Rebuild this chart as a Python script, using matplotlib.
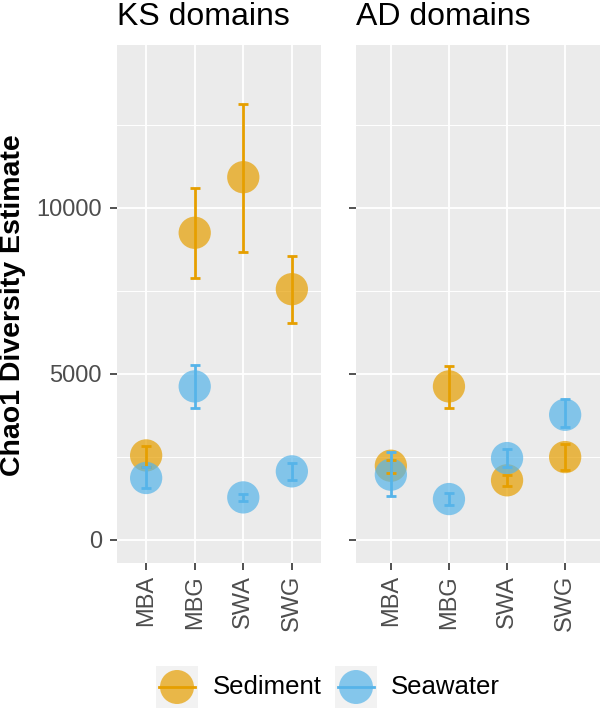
import matplotlib
matplotlib.use("Agg")
import matplotlib.pyplot as plt
from matplotlib.patches import Rectangle, Circle

plt.rcParams['font.family'] = ['Liberation Sans', 'DejaVu Sans']

# ---- data ----
categories = ['MBA', 'MBG', 'SWA', 'SWG']

ks_sed = [2540, 9250, 10925, 7550]
ks_sed_lo = [2190, 7900, 8685, 6545]
ks_sed_hi = [2830, 10595, 13140, 8545]
ks_sea = [1860, 4620, 1275, 2060]
ks_sea_lo = [1545, 3965, 1155, 1805]
ks_sea_hi = [2180, 5260, 1385, 2320]

ad_sed = [2230, 4620, 1790, 2490]
ad_sed_lo = [2010, 3965, 1605, 2110]
ad_sed_hi = [2410, 5230, 1960, 2890]
ad_sea = [1960, 1225, 2460, 3765]
ad_sea_lo = [1325, 1055, 2180, 3385]
ad_sea_hi = [2640, 1405, 2740, 4240]

panel_titles = ['KS domains', 'AD domains']
groups = ['Sediment', 'Seawater']
colors = {'Sediment': '#E69F00', 'Seawater': '#56B4E9'}

W, H = 600, 710
fig = plt.figure(figsize=(W / 100, H / 100), dpi=100)


def rect(l, t, r, b):
    return [l / W, 1 - b / H, (r - l) / W, (b - t) / H]


ax1 = fig.add_axes(rect(117, 45, 321, 563))
ax2 = fig.add_axes(rect(356, 45, 600, 563))

panels = [
    (ax1, {'Sediment': (ks_sed, ks_sed_lo, ks_sed_hi), 'Seawater': (ks_sea, ks_sea_lo, ks_sea_hi)}),
    (ax2, {'Sediment': (ad_sed, ad_sed_lo, ad_sed_hi), 'Seawater': (ad_sea, ad_sea_lo, ad_sea_hi)}),
]

x = list(range(1, len(categories) + 1))
for ax, data in panels:
    ax.set_facecolor('#EBEBEB')
    for s in ax.spines.values():
        s.set_visible(False)
    ax.set_xlim(0.4, 4.6)
    ax.set_ylim(-702, 14909)
    ax.set_yticks([0, 5000, 10000])
    ax.set_yticks([2500, 7500, 12500], minor=True)
    ax.set_xticks(x)
    ax.set_xticklabels(categories, rotation=90, va='top', ha='center')
    ax.grid(which='major', color='white', lw=1.3)
    ax.grid(which='minor', color='white', lw=0.7)
    ax.set_axisbelow(True)
    ax.tick_params(which='major', length=5, width=1.2, color='#333333',
                   labelsize=17, labelcolor='#4D4D4D')
    ax.tick_params(axis='y', pad=5.8)
    ax.tick_params(axis='x', pad=3.6)
    ax.tick_params(which='minor', length=0)

    for g in groups:
        mid = data[g][0]
        ax.scatter(x, mid, s=540, color=colors[g], alpha=0.7, edgecolors='none', zorder=2)
    for g in groups:
        mid, lo, hi = data[g]
        yerr = [[m - l for m, l in zip(mid, lo)], [h - m for m, h in zip(mid, hi)]]
        ax.errorbar(x, mid, yerr=yerr, fmt='none', ecolor=colors[g],
                    elinewidth=2, capsize=3.8, capthick=2, zorder=3)

ax2.tick_params(axis='y', labelleft=False)

fig.text(117 / W, 1 - 25 / H, panel_titles[0], fontsize=23, ha='left', va='baseline')
fig.text(356 / W, 1 - 25 / H, panel_titles[1], fontsize=23, ha='left', va='baseline')
fig.text(0.5 / W, 1 - 305 / H, 'Chao1 Diversity Estimate', rotation=90,
         fontsize=20.5, fontweight='bold', ha='left', va='center')

# legend drawn in pixel space
lax = fig.add_axes([0, 0, 1, 1], zorder=-1)
lax.set_xlim(0, W)
lax.set_ylim(H, 0)
lax.axis('off')
key_x = [156, 335]
text_x = [213, 391]
for g, kx, tx in zip(groups, key_x, text_x):
    lax.add_patch(Rectangle((kx, 666), 42, 42, color='#F2F2F2', lw=0))
    lax.add_patch(Circle((kx + 21, 687), 17, color=colors[g], alpha=0.7, lw=0))
    lax.plot([kx + 3, kx + 39], [687, 687], color=colors[g], lw=2)
    lax.text(tx, 687, g, fontsize=18.5, ha='left', va='center')

fig.savefig('out.png', dpi=100)
